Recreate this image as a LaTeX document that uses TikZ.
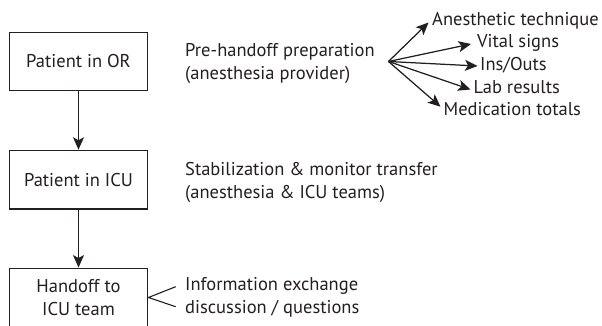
\documentclass[tikz,border=0pt]{standalone}
\usepackage{fontspec}
\setmainfont{PT Sans}
\usetikzlibrary{arrows.meta}
\definecolor{ink}{HTML}{231F20}
\newcommand\dgfont{\fontsize{18.5}{23}\selectfont}
\begin{document}
\begin{tikzpicture}[x=1pt,y=-1pt,
  box/.style={draw=ink, line width=1.4pt, minimum width=138.5pt, minimum height=58.5pt,
    inner sep=0pt, align=center, font=\dgfont, text=ink},
  lbl/.style={anchor=west, inner sep=0pt, align=left, font=\dgfont, text=ink},
  fanlbl/.style={anchor=west, inner sep=0pt, font=\dgfont, text=ink, text height=0.68em, text depth=0pt},
  arr/.style={draw=ink, line width=1.25pt, -{Stealth[length=12.5pt,width=11pt,inset=3pt]}},
  thin/.style={draw=ink, line width=1.1pt}]
\useasboundingbox (0,0) rectangle (602,326);

\node[box] (or)  at (78.5,61.5)  {Patient in OR};
\node[box] (icu) at (78.5,179.7) {Patient in ICU};
\node[box] (ho)  at (78.5,297.5) {Handoff to\\ICU team};

\draw[arr] (or) -- (icu);
\draw[arr] (icu) -- (ho);

\node[lbl] (prep) at (185,63.5) {Pre-handoff preparation\\(anesthesia provider)};
\node[lbl] (stab) at (185,182.5) {Stabilization \& monitor transfer\\(anesthesia \& ICU teams)};
\node[lbl] (info) at (185,297.5) {Information exchange\\discussion / questions};

\coordinate (fan) at (388.5,61.5);
\node[fanlbl] (anes) at (432,22.5) {Anesthetic technique};
\node[fanlbl] (vital) at (477,44.5) {Vital signs};
\node[fanlbl] (ins) at (480,67) {Ins/Outs};
\node[fanlbl] (lab) at (473.5,90) {Lab results};
\node[fanlbl] (med) at (443.5,112.5) {Medication totals};

\coordinate (tanes) at (428.5,22.5);
\coordinate (tvital) at (471,44);
\coordinate (tins) at (477.5,66);
\coordinate (tlab) at (470.5,89.5);
\coordinate (tmed) at (440.5,106.7);
\foreach \t in {tanes,tvital,tins,tlab,tmed} \draw[arr] (fan) -- (\t);

\coordinate (iu) at (175.7,286.7);
\coordinate (il) at (175.7,306.7);
\draw[thin] (iu) -- (ho.east) -- (il);
\end{tikzpicture}
\end{document}
